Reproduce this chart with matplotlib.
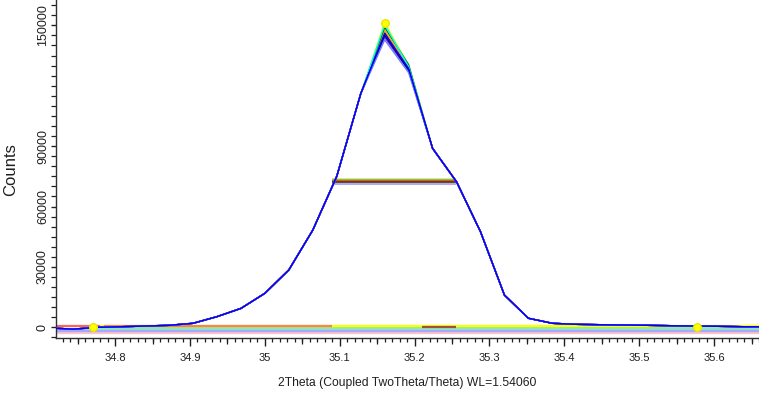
import matplotlib
matplotlib.use("Agg")
import matplotlib.pyplot as plt
from matplotlib.ticker import MultipleLocator, FixedLocator, FuncFormatter

# ---------------- data ----------------
two_theta = [34.712, 34.744, 34.776, 34.808, 34.840, 34.872, 34.904, 34.936,
             34.968, 35.000, 35.032, 35.064, 35.096, 35.128, 35.160, 35.192,
             35.224, 35.256, 35.288, 35.320, 35.352, 35.384, 35.416, 35.448,
             35.480, 35.512, 35.544, 35.576, 35.608, 35.640, 35.672]
counts_main = [-300, -900, 0, 300, 650, 1000, 2000, 5300,
               9400, 16900, 28500, 48300, 75000, 116000, 147500, 128600,
               88900, 72300, 47500, 16000, 4500, 2000, 1500, 1300,
               1150, 1000, 800, 650, 500, 300, 300]
peak_index = 14
shoulder_index = 15

scan_colors = ["black", "red", "#8B4513", "orange", "yellow", "green",
               "cyan", "magenta", "#8A2BE2", "navy", "#6A7BFF", "blue"]
scan_peak_counts = [146500, 146000, 147000, 147500, 151500, 149000,
                    150500, 145500, 144000, 145000, 142800, 146000]
scan_shoulder_counts = [128000, 128500, 128800, 129000, 130000, 130500,
                        129500, 128000, 127500, 127800, 126500, 128600]

fwhm_colors = ["#A8F0C8", "#B8B000", "#E05020", "#5A3A10", "#A0A0FF"]
fwhm_levels = [73700, 73200, 72600, 72100, 71300]
fwhm_start = 35.089
fwhm_end = 35.255

bg_colors = ["#FFC0CB", "#A6A6FF", "#8FD8FF", "#90EE90", "yellow", "#FF8050", "#A0522D", "#FF6060"]
bg_levels = [-2700, -1900, -900, -200, 550, 750, 300, 800]
bg_starts = [34.72, 34.72, 34.72, 34.78, 34.771, 34.785, 35.21, 34.72]
bg_ends = [35.66, 35.66, 35.66, 35.66, 35.66, 35.09, 35.255, 34.78]

marker_theta = [34.771, 35.577, 35.160]
marker_counts = [300, 300, 151000]

x_ticks = [34.8, 34.9, 35.0, 35.1, 35.2, 35.3, 35.4, 35.5, 35.6]
x_mid_ticks = [34.75, 34.85, 34.95, 35.05, 35.15, 35.25, 35.35, 35.45, 35.55, 35.65]
y_ticks = [0, 30000, 60000, 90000, 150000]
x_limits = [34.721, 35.66]
y_limits = [-5300, 162600]

# ---------------- figure ----------------
plt.rcParams["font.family"] = ["Liberation Sans", "DejaVu Sans"]
W, H = 759, 394
fig = plt.figure(figsize=(W / 100, H / 100), dpi=100)
ax = fig.add_axes([56 / W, 56 / H, 1 - 56 / W, 338 / H])

# background lines
for c, lvl, x0, x1 in zip(bg_colors, bg_levels, bg_starts, bg_ends):
    ax.plot([x0, x1], [lvl, lvl], color=c, lw=1.6, zorder=1, solid_capstyle="butt")

# FWHM lines
for c, lvl in zip(fwhm_colors, fwhm_levels):
    ax.plot([fwhm_start, fwhm_end], [lvl, lvl], color=c, lw=1.3, zorder=2,
            solid_capstyle="butt")

# scan profiles
for c, pk, sh in zip(scan_colors, scan_peak_counts, scan_shoulder_counts):
    y = list(counts_main)
    y[peak_index] = pk
    y[shoulder_index] = sh
    ax.plot(two_theta, y, color=c, lw=1.0, zorder=3)

# markers
ax.plot(marker_theta, marker_counts, linestyle="none", marker="o", ms=5.5,
        markerfacecolor="yellow", markeredgecolor="#E8E800", zorder=5)

ax.set_xlim(*x_limits)
ax.set_ylim(*y_limits)

for s in ["top", "right"]:
    ax.spines[s].set_visible(False)
for s in ["left", "bottom"]:
    ax.spines[s].set_linewidth(1.0)
    ax.spines[s].set_color("#303030")

ax.xaxis.set_major_locator(FixedLocator(x_ticks))
ax.xaxis.set_minor_locator(MultipleLocator(0.01))
ax.xaxis.set_major_formatter(FuncFormatter(lambda v, p: "%g" % round(v, 3)))
ax.yaxis.set_major_locator(FixedLocator(y_ticks))
ax.yaxis.set_minor_locator(MultipleLocator(5000))
ax.yaxis.set_major_formatter(FuncFormatter(lambda v, p: "%d" % v))

ax.tick_params(axis="x", which="major", direction="out", length=5.8, width=1.0,
               labelsize=8, pad=5, colors="#202020")
ax.tick_params(axis="x", which="minor", direction="out", length=3, width=0.9,
               colors="#202020")
ax.tick_params(axis="y", which="major", direction="out", length=3.6, width=1.0,
               labelsize=9, pad=1.5, colors="#202020", labelrotation=90)
ax.tick_params(axis="y", which="minor", direction="out", length=3.6, width=0.9,
               colors="#202020")
for lab in ax.get_yticklabels():
    lab.set_verticalalignment("center")

sec = ax.secondary_xaxis("bottom")
sec.xaxis.set_major_locator(FixedLocator(x_mid_ticks))
sec.tick_params(axis="x", direction="out", length=4.3, width=0.9,
                labelbottom=False, colors="#202020")
sec.spines["bottom"].set_visible(False)

fig.text(11 / W, 1 - 170 / H, "Counts", rotation=90, ha="center", va="center",
         fontsize=12, color="#202020")
fig.text(407 / W, 1 - 383 / H, "2Theta (Coupled TwoTheta/Theta) WL=1.54060",
         ha="center", va="center", fontsize=8.7, color="#202020")

fig.savefig("out.png", dpi=100)
